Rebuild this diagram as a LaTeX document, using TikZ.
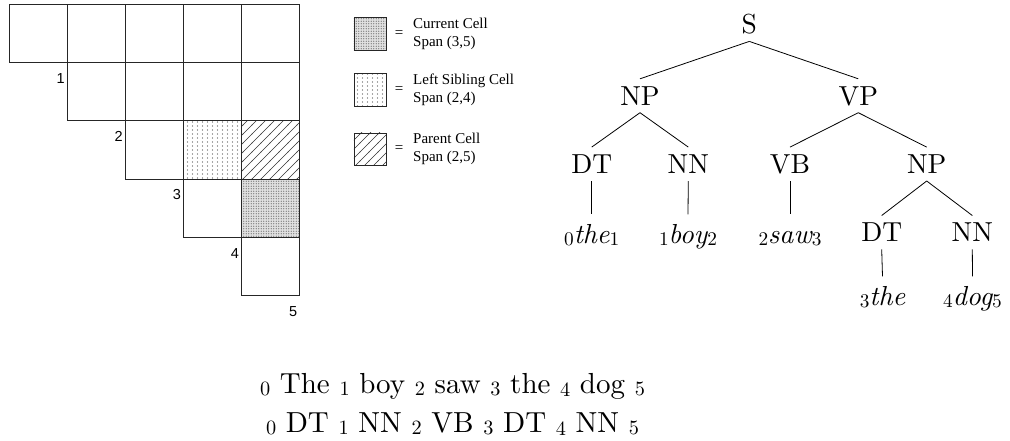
\documentclass[tikz,border=0pt]{standalone}
\usepackage{fontspec}
\setmainfont{lmroman10}[Extension=.otf, UprightFont=*-regular, ItalicFont=*-italic, BoldFont=*-bold, BoldItalicFont=*-bolditalic]
\newfontfamily\legendfont{Liberation Serif}
\newfontfamily\numfont{Liberation Sans}
\usetikzlibrary{patterns}

% index digit set low and small, as a subscript; size comes from \idxsize
\def\idxsize{19}
\newcommand\idx[1]{\raisebox{-0.22\height}{\upshape\fontsize{\idxsize}{\idxsize}\selectfont #1}}

% fill patterns for the three marked chart cells
\pgfdeclarepatternformonly{sparsedots}{\pgfpoint{-1pt}{-1pt}}{\pgfpoint{6pt}{5pt}}{\pgfpoint{5pt}{4pt}}%
  {\pgfpathcircle{\pgfpoint{2.5pt}{2pt}}{0.6pt}\pgfusepath{fill}}
\pgfdeclarepatternformonly{densedots}{\pgfpoint{-0.5pt}{-0.5pt}}{\pgfpoint{3pt}{3pt}}{\pgfpoint{2.5pt}{2.5pt}}%
  {\pgfpathcircle{\pgfpoint{1.25pt}{1.25pt}}{0.7pt}\pgfusepath{fill}}
\pgfdeclarepatternformonly{widehatch}{\pgfpoint{-1pt}{-1pt}}{\pgfpoint{10pt}{10pt}}{\pgfpoint{9pt}{9pt}}%
  {\pgfsetlinewidth{0.6pt}\pgfpathmoveto{\pgfpoint{-0.5pt}{-0.5pt}}\pgfpathlineto{\pgfpoint{9.5pt}{9.5pt}}\pgfusepath{stroke}}

\tikzset{
  cell/.style={draw=black!85, line width=0.9pt, minimum width=58.1pt, minimum height=58.1pt, inner sep=0pt},
  currentcell/.style={preaction={fill=black!12}, pattern=densedots, pattern color=black!55},
  siblingcell/.style={pattern=sparsedots, pattern color=black!70},
  parentcell/.style={pattern=widehatch, pattern color=black!80},
  cellstyle 2-3/.style={siblingcell},
  cellstyle 2-4/.style={parentcell},
  cellstyle 3-4/.style={currentcell},
  numlabel/.style={font=\numfont\fontsize{14.5}{16}\selectfont, inner sep=0pt, anchor=east},
  legbox/.style={draw=black!85, line width=0.9pt, minimum width=32.7pt, minimum height=32.7pt, inner sep=0pt},
  legtext/.style={font=\legendfont\fontsize{15}{18}\selectfont, align=left, inner sep=0pt, anchor=west},
  treefont/.style={font={\def\idxsize{19.3}\fontsize{27.5}{33}\selectfont}},
  tlabel/.style={treefont, inner xsep=0pt, inner ysep=7.5pt, text height=18.5pt, text depth=0pt, anchor=base},
  tleaf/.style={font={\def\idxsize{19.3}\fontsize{27.5}{33}\selectfont\itshape}, inner xsep=0pt, inner ysep=7.5pt, text height=21pt, text depth=0pt, anchor=base},
  branch/.style={line width=0.8pt},
  sentence/.style={font={\def\idxsize{20.3}\fontsize{29}{35}\selectfont}, inner sep=0pt, anchor=base}
}

\begin{document}
\begin{tikzpicture}[x=1pt, y=-1pt]
\useasboundingbox (0,0) rectangle (1010,440);

% upper-triangular chart
\foreach \r in {0,...,4}{
  \foreach \c in {\r,...,4}{
    \node[cell, cellstyle \r-\c/.try] (g-\r-\c) at ({9.3+58.1*(\c+0.5)},{4.7+58.1*(\r+0.5)}) {};
  }
}
\foreach \k in {1,...,5}{
  \node[numlabel] (n-\k) at ({9.3+58.1*\k-2.5},{4.7+58.1*\k+16}) {\k};
}

% legend
\node[legbox, currentcell] (lb1) at (370.3,33.7) {};
\node[legtext, anchor=center] (eq1) at (399,33.7) {=};
\node[legtext] (lt1) at (413,33.7) {Current Cell\\Span (3,5)};
\node[legbox, siblingcell] (lb2) at (370.3,90) {};
\node[legtext, anchor=center] (eq2) at (399,90) {=};
\node[legtext] (lt2) at (413,90) {Left Sibling Cell\\Span (2,4)};
\node[legbox, parentcell] (lb3) at (370.3,149.3) {};
\node[legtext, anchor=center] (eq3) at (399,149.3) {=};
\node[legtext] (lt3) at (413,149.3) {Parent Cell\\Span (2,5)};

% parse tree
\node[tlabel] (S) at (749.3,33.7) {S};
\node[tlabel] (NPa) at (640,105) {NP};
\node[tlabel] (VP) at (858.3,105) {VP};
\node[tlabel] (DTa) at (591.7,173.3) {DT};
\node[tlabel] (NNa) at (688.3,173.3) {NN};
\node[tlabel] (VB) at (790,173.3) {VB};
\node[tlabel] (NPb) at (926.7,173.3) {NP};
\node[tleaf] (w0) at (591.7,243) {\idx{0}the\idx{1}};
\node[tleaf] (w1) at (688,243) {\idx{1}boy\idx{2}};
\node[tleaf] (w2) at (790,243) {\idx{2}saw\idx{3}};
\node[tlabel] (DTb) at (881.7,241.7) {DT};
\node[tlabel] (NNb) at (972.3,241.7) {NN};
\node[tleaf] (w3) at (882.5,305) {\idx{3}the};
\node[tleaf] (w4) at (972.5,305) {\idx{4}dog\idx{5}};

\draw[branch] (S.south) -- (NPa.north);
\draw[branch] (S.south) -- (VP.north);
\draw[branch] (NPa.south) -- (DTa.north);
\draw[branch] (NPa.south) -- (NNa.north);
\draw[branch] (VP.south) -- (VB.north);
\draw[branch] (VP.south) -- (NPb.north);
\draw[branch] (NPb.south) -- (DTb.north);
\draw[branch] (NPb.south) -- (NNb.north);
\draw[branch] (DTa.south) -- (w0.north);
\draw[branch] (NNa.south) -- (w1.north);
\draw[branch] (VB.south) -- (w2.north);
\draw[branch] (DTb.south) -- (w3.north);
\draw[branch] (NNb.south) -- (w4.north);

% indexed sentence and tag sequence, centred one above the other
\node[sentence] (words) at (452.5,393) {\idx{0} The \idx{1} boy \idx{2} saw \idx{3} the \idx{4} dog \idx{5}};
\node[sentence] (tags) at (452.5,432) {\idx{0} DT \idx{1} NN \idx{2} VB \idx{3} DT \idx{4} NN \idx{5}};
\end{tikzpicture}
\end{document}
